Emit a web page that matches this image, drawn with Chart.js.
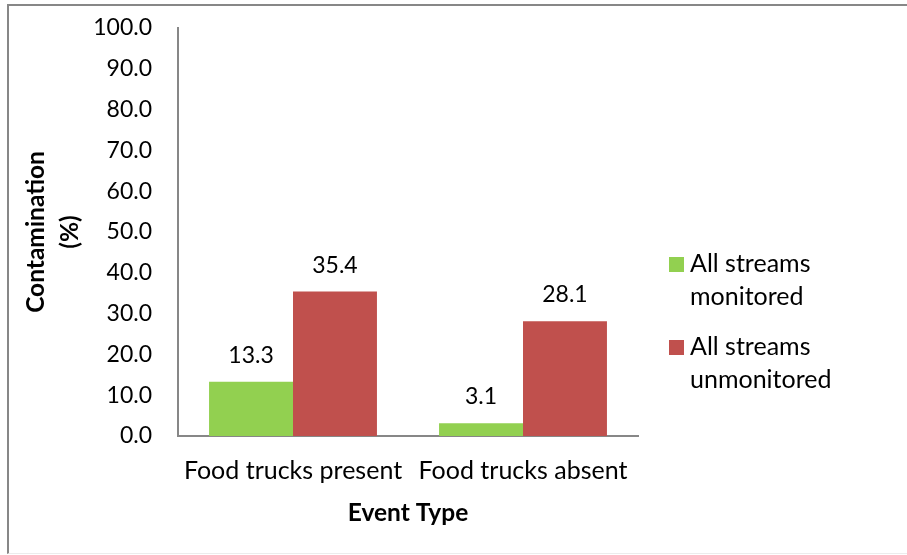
<!DOCTYPE html>
<html><head><meta charset="utf-8">
<script src="https://cdn.jsdelivr.net/npm/chart.js@4/dist/chart.umd.min.js"></script>
<style>
html,body{margin:0;padding:0;background:#fff;}
#wrap{position:relative;width:907px;height:555px;overflow:hidden;}
#frame{position:absolute;left:7px;top:4px;width:905px;height:550px;border-left:2px solid #878787;border-top:2px solid #878787;border-bottom:1px solid #ececec;box-sizing:border-box;}
canvas{position:absolute;left:0;top:0;}
</style></head><body>
<div id="wrap"><div id="frame"></div><canvas id="c" width="907" height="555"></canvas></div>
<script>
const categories = ["Food trucks present", "Food trucks absent"];
const monitored = [13.3, 3.1];
const unmonitored = [35.4, 28.1];
const seriesNames = ["All streams monitored", "All streams unmonitored"];
const legendLines = [["All streams", "monitored"], ["All streams", "unmonitored"]];
const yTitle = ["Contamination", "(%)"];
const xTitle = "Event Type";
const yMin = 0, yMax = 100, yStep = 10;

const FONT = "Lato";
const AXIS_COLOR = "#878787";

const valueLabels = {
  id: "valueLabels",
  afterDatasetsDraw(chart) {
    const ctx = chart.ctx;
    ctx.save();
    ctx.font = "23px " + FONT;
    ctx.fillStyle = "#000";
    ctx.textAlign = "center";
    ctx.textBaseline = "alphabetic";
    chart.data.datasets.forEach((ds, i) => {
      chart.getDatasetMeta(i).data.forEach((bar, j) => {
        ctx.fillText(ds.data[j].toFixed(1), bar.x, bar.y - 19);
      });
    });
    ctx.restore();
  }
};

const sideLegend = {
  id: "sideLegend",
  afterDraw(chart) {
    const ctx = chart.ctx;
    const x0 = chart.chartArea.right + 31;
    ctx.save();
    ctx.font = "25px " + FONT;
    ctx.textAlign = "left";
    ctx.textBaseline = "alphabetic";
    chart.data.datasets.forEach((ds, i) => {
      const top = 257 + i * 83;
      ctx.fillStyle = ds.backgroundColor;
      ctx.fillRect(x0, top, 15, 15);
      ctx.fillStyle = "#000";
      legendLines[i].forEach((line, k) => {
        ctx.fillText(line, x0 + 21, top + 15 + k * 32.5);
      });
    });
    ctx.restore();
  }
};

function build() {
  new Chart(document.getElementById("c"), {
    type: "bar",
    data: {
      labels: categories,
      datasets: [
        { label: seriesNames[0], data: monitored, backgroundColor: "#92D050", borderWidth: 0 },
        { label: seriesNames[1], data: unmonitored, backgroundColor: "#C0504D", borderWidth: 0 }
      ]
    },
    options: {
      responsive: false,
      animation: false,
      devicePixelRatio: 1,
      layout: { padding: { left: 0, top: 28, right: 269, bottom: 0 } },
      datasets: { bar: { categoryPercentage: 0.73, barPercentage: 1.0 } },
      plugins: { legend: { display: false }, tooltip: { enabled: false } },
      scales: {
        x: {
          grid: { display: false, drawTicks: false },
          border: { display: true, color: AXIS_COLOR, width: 2 },
          ticks: { color: "#000", font: { family: FONT, size: 25 }, padding: 20, maxRotation: 0 },
          title: { display: true, text: xTitle, color: "#000", font: { family: FONT, size: 24.5, weight: "bold" }, padding: { top: 0, bottom: 27 } },
          afterFit(scale) { scale.height = 119; }
        },
        y: {
          min: yMin, max: yMax,
          grid: { display: false, drawTicks: false },
          border: { display: true, color: AXIS_COLOR, width: 2 },
          ticks: { stepSize: yStep, color: "#000", font: { family: FONT, size: 23 }, padding: 26, callback: v => Number(v).toFixed(1) },
          title: { display: true, text: yTitle, color: "#000", font: { family: FONT, size: 24.5, weight: "bold", lineHeight: 1.35 }, padding: { top: 20, bottom: 0 } },
          afterFit(scale) { scale.width = 178; scale.paddingTop = 12; scale.paddingBottom = 0; }
        }
      }
    },
    plugins: [valueLabels, sideLegend]
  });
}
if (document.fonts && document.fonts.load) {
  Promise.all([document.fonts.load("23px Lato"), document.fonts.load("bold 22px Lato")]).then(build, build);
} else { build(); }
</script>
</body></html>
